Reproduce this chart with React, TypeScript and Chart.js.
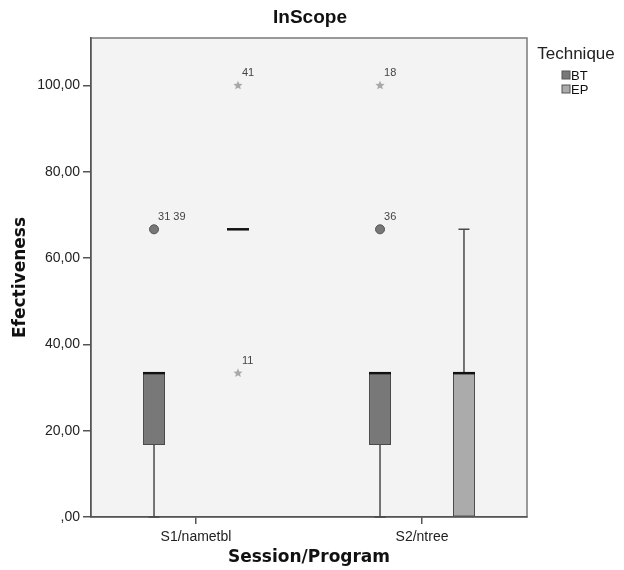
import React, { useEffect, useRef } from 'react';
import { Chart, registerables } from 'chart.js';

Chart.register(...registerables);

// ---------- data ----------
const categories = ['S1/nametbl', 'S2/ntree'];
const techniques = ['BT', 'EP'];
const techniqueColors = ['#787878', '#ababab'];
const chartTitle = 'InScope';
const legendTitle = 'Technique';

// BT five-number summaries (per category)
const btMin = [0, 0];
const btQ1 = [16.67, 16.67];
const btMedian = [33.33, 33.33];
const btQ3 = [33.33, 33.33];
const btMax = [33.33, 33.33];

// EP five-number summaries (per category)
const epMin = [66.67, 0];
const epQ1 = [66.67, 0];
const epMedian = [66.67, 33.33];
const epQ3 = [66.67, 33.33];
const epMax = [66.67, 66.67];

// outliers
const btOutlierCat = [0, 1, 1];
const btOutlierVal = [66.67, 66.67, 100];
const btOutlierLabel = ['31 39', '36', '18'];
const btOutlierKind = ['circle', 'circle', 'star'];

const epOutlierCat = [0, 0];
const epOutlierVal = [100, 33.33];
const epOutlierLabel = ['41', '11'];
const epOutlierKind = ['star', 'star'];

const yTicks = [0, 20, 40, 60, 80, 100];
const yMax = 111;
const xPad = 0.4646;

const summaries = [
  { min: btMin, q1: btQ1, med: btMedian, q3: btQ3, max: btMax },
  { min: epMin, q1: epQ1, med: epMedian, q3: epQ3, max: epMax },
];
const outliers = [
  { cat: btOutlierCat, val: btOutlierVal, label: btOutlierLabel, kind: btOutlierKind },
  { cat: epOutlierCat, val: epOutlierVal, label: epOutlierLabel, kind: epOutlierKind },
];

const SANS = "'Liberation Sans', Arial, sans-serif";
const BOLD = "'DejaVu Sans', Verdana, sans-serif";

function drawStar(ctx: CanvasRenderingContext2D, x: number, y: number, r: number) {
  ctx.beginPath();
  for (let k = 0; k < 10; k++) {
    const ang = -Math.PI / 2 + (k * Math.PI) / 5;
    const rr = k % 2 === 0 ? r : r * 0.45;
    const px = x + rr * Math.cos(ang);
    const py = y + rr * Math.sin(ang);
    if (k === 0) ctx.moveTo(px, py);
    else ctx.lineTo(px, py);
  }
  ctx.closePath();
  ctx.fill();
}

const boxPlugin = {
  id: 'boxExtras',
  beforeDraw(chart: any) {
    const { ctx, chartArea: a } = chart;
    ctx.save();
    ctx.fillStyle = '#f3f3f3';
    ctx.fillRect(a.left, a.top, a.right - a.left, a.bottom - a.top);
    ctx.strokeStyle = '#7a7a7a';
    ctx.lineWidth = 1.5;
    ctx.strokeRect(a.left, a.top, a.right - a.left, a.bottom - a.top);
    ctx.restore();
  },
  afterDatasetsDraw(chart: any) {
    const { ctx } = chart;
    const y = chart.scales.y;
    ctx.save();
    summaries.forEach((s, d) => {
      const meta = chart.getDatasetMeta(d);
      meta.data.forEach((bar: any, i: number) => {
        const cx = bar.x;
        const w = bar.width;
        ctx.strokeStyle = '#4a4a4a';
        ctx.lineWidth = 1.5;
        if (s.max[i] > s.q3[i]) {
          ctx.beginPath();
          ctx.moveTo(cx, y.getPixelForValue(s.q3[i]));
          ctx.lineTo(cx, y.getPixelForValue(s.max[i]));
          ctx.moveTo(cx - w / 4, y.getPixelForValue(s.max[i]));
          ctx.lineTo(cx + w / 4, y.getPixelForValue(s.max[i]));
          ctx.stroke();
        }
        if (s.min[i] < s.q1[i]) {
          ctx.beginPath();
          ctx.moveTo(cx, y.getPixelForValue(s.q1[i]));
          ctx.lineTo(cx, y.getPixelForValue(s.min[i]));
          ctx.moveTo(cx - w / 4, y.getPixelForValue(s.min[i]));
          ctx.lineTo(cx + w / 4, y.getPixelForValue(s.min[i]));
          ctx.stroke();
        }
        ctx.strokeStyle = '#111';
        ctx.lineWidth = 2.5;
        ctx.beginPath();
        ctx.moveTo(cx - w / 2, y.getPixelForValue(s.med[i]));
        ctx.lineTo(cx + w / 2, y.getPixelForValue(s.med[i]));
        ctx.stroke();
      });
    });
    outliers.forEach((o, d) => {
      const meta = chart.getDatasetMeta(d);
      o.val.forEach((v, k) => {
        const bar: any = meta.data[o.cat[k]];
        const px = bar.x;
        const py = y.getPixelForValue(v);
        if (o.kind[k] === 'circle') {
          ctx.beginPath();
          ctx.arc(px, py, 4.5, 0, Math.PI * 2);
          ctx.fillStyle = '#777';
          ctx.fill();
          ctx.strokeStyle = '#555';
          ctx.lineWidth = 1;
          ctx.stroke();
        } else {
          ctx.fillStyle = '#a8a8a8';
          drawStar(ctx, px, py, 4.8);
        }
        ctx.fillStyle = '#444';
        ctx.font = `11px ${SANS}`;
        ctx.textAlign = 'left';
        ctx.textBaseline = 'middle';
        ctx.fillText(o.label[k], px + 4, py - 12);
      });
    });
    ctx.restore();
  },
  afterDraw(chart: any) {
    const { ctx, chartArea: a } = chart;
    ctx.save();
    // title
    ctx.fillStyle = '#111';
    ctx.font = `bold 19px ${SANS}`;
    ctx.textAlign = 'center';
    ctx.textBaseline = 'middle';
    ctx.fillText(chartTitle, (a.left + a.right) / 2 + 1, 18);
    // legend
    ctx.fillStyle = '#222';
    ctx.font = `17px ${SANS}`;
    ctx.fillText(legendTitle, 576, 54);
    techniques.forEach((t, i) => {
      const yy = 75 + i * 14;
      ctx.fillStyle = techniqueColors[i];
      ctx.fillRect(562, yy - 4, 8, 8);
      ctx.strokeStyle = '#555';
      ctx.lineWidth = 1;
      ctx.strokeRect(562, yy - 4, 8, 8);
      ctx.fillStyle = '#111';
      ctx.font = `13px ${SANS}`;
      ctx.textAlign = 'left';
      ctx.fillText(t, 571, yy + 1);
    });
    ctx.restore();
  },
};

export default function App() {
  const ref = useRef<HTMLCanvasElement | null>(null);
  useEffect(() => {
    if (!ref.current) return;
    const datasets = techniques.map((t, d) => ({
      label: t,
      data: categories.map((_, i) => ({ x: i, y: [summaries[d].q1[i], summaries[d].q3[i]] })),
      backgroundColor: techniqueColors[d],
      borderColor: '#4a4a4a',
      borderWidth: 1,
      borderSkipped: false,
      categoryPercentage: 0.743,
      barPercentage: 0.262,
    }));
    const chart = new Chart(ref.current, {
      type: 'bar',
      data: { datasets } as any,
      plugins: [boxPlugin as any],
      options: {
        animation: false,
        responsive: false,
        devicePixelRatio: 1,
        layout: { padding: { left: 0, right: 97, top: 38, bottom: 0 } },
        plugins: {
          legend: { display: false },
          tooltip: { enabled: false },
          title: { display: false },
        },
        scales: {
          x: {
            type: 'linear',
            offset: false,
            min: -xPad,
            max: categories.length - 1 + xPad,
            afterBuildTicks: (scale: any) => {
              scale.ticks = categories.map((_, i) => ({ value: i }));
            },
            afterFit: (scale: any) => {
              scale.height = 53;
            },
            ticks: {
              autoSkip: false,
              maxRotation: 0,
              padding: 5,
              color: '#222',
              font: { family: SANS, size: 14 },
              callback: (v: any) => categories[v],
            },
            grid: {
              display: true,
              offset: false,
              drawOnChartArea: false,
              drawTicks: true,
              tickLength: 7,
              color: '#555',
              lineWidth: 1.5,
            },
            border: { display: true, color: '#555', width: 1.5 },
            title: {
              display: true,
              text: 'Session/Program',
              color: '#111',
              font: { family: BOLD, size: 17, weight: 'bold' },
              padding: { top: 0, bottom: 2 },
            },
          },
          y: {
            type: 'linear',
            min: 0,
            max: yMax,
            afterBuildTicks: (scale: any) => {
              scale.ticks = yTicks.map((v) => ({ value: v }));
            },
            afterFit: (scale: any) => {
              scale.width = 91;
            },
            ticks: {
              padding: 3,
              color: '#222',
              font: { family: SANS, size: 14 },
              callback: (v: any) => (v === 0 ? ',00' : Number(v).toFixed(2).replace('.', ',')),
            },
            grid: {
              display: true,
              drawOnChartArea: false,
              drawTicks: true,
              tickLength: 8,
              color: '#555',
              lineWidth: 1.5,
            },
            border: { display: true, color: '#555', width: 1.5 },
            title: {
              display: true,
              text: 'Efectiveness',
              color: '#111',
              font: { family: BOLD, size: 17, weight: 'bold' },
              padding: { top: 10, bottom: 0 },
            },
          },
        },
      } as any,
    });
    return () => chart.destroy();
  }, []);
  return (
    <div style={{ position: 'absolute', left: 0, top: 0, width: 624, height: 570, background: '#fff' }}>
      <canvas ref={ref} width={624} height={570} style={{ display: 'block' }} />
    </div>
  );
}
